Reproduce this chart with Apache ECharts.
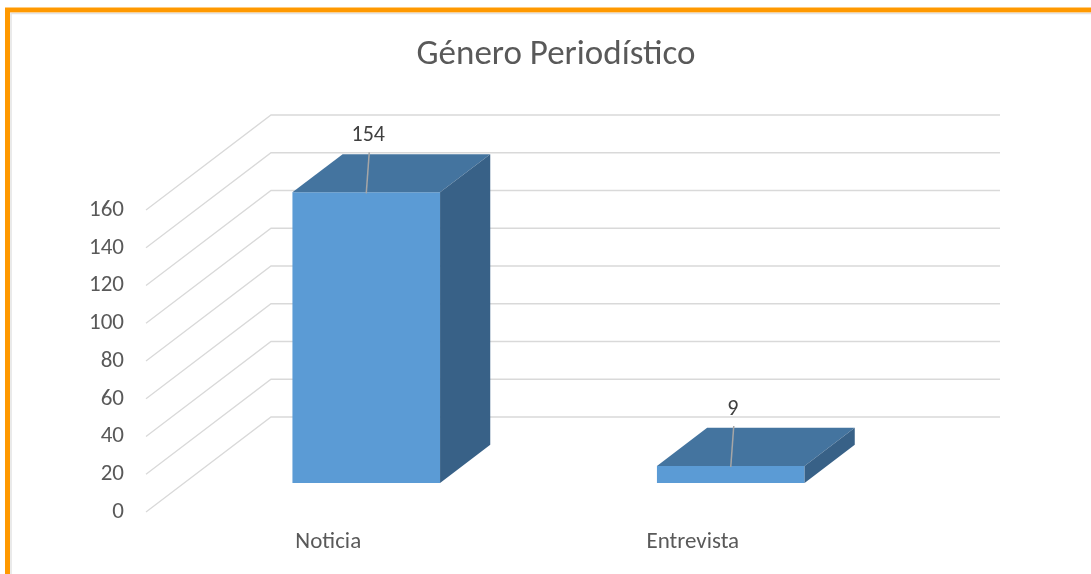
<!DOCTYPE html>
<html>
<head>
<meta charset="utf-8">
<script src="https://cdn.jsdelivr.net/npm/echarts@6/dist/echarts.min.js"></script>
<style>
  html, body { margin: 0; padding: 0; background: #fff; }
  #chart { width: 1091px; height: 574px; }
</style>
</head>
<body>
<div id="chart"></div>
<script>
const categories = ['Noticia', 'Entrevista']
const values = [154, 9]
const yTicks = [0, 20, 40, 60, 80, 100, 120, 140, 160]

const FONT = 'Carlito, Lato, "Open Sans", sans-serif'
// shift from the front edge of the floor to the back wall
const BACK = [125, -95]

const chart = echarts.init(document.getElementById('chart'))

function wallLine(params, api) {
  const cs = params.coordSys
  const y = api.coord([0, api.value(0)])[1]
  const x0 = cs.x
  return {
    type: 'polyline',
    shape: {
      points: [
        [x0, y],
        [x0 + BACK[0], y + BACK[1]],
        [x0 + BACK[0] + cs.width, y + BACK[1]]
      ]
    },
    style: { stroke: '#D9D9D9', lineWidth: 1.3, fill: null }
  }
}

function box(params, api) {
  const idx = api.value(0)
  const val = api.value(1)
  const base = api.coord([idx, 0])
  const top = api.coord([idx, val])
  const cx = base[0]
  const w = api.size([1, 0])[0] * 0.405
  const dx = w * 0.34
  const dy = dx * 0.76
  const l = cx - w / 2
  const r = cx + w / 2
  const y0 = base[1]
  const y1 = top[1]
  return {
    type: 'group',
    children: [
      {
        type: 'rect',
        shape: { x: l, y: y1, width: w, height: y0 - y1 },
        style: { fill: '#5B9BD5' }
      },
      {
        type: 'polygon',
        shape: { points: [[l, y1], [r, y1], [r + dx, y1 - dy], [l + dx, y1 - dy]] },
        style: { fill: '#44749F' }
      },
      {
        type: 'polygon',
        shape: { points: [[r, y1], [r + dx, y1 - dy], [r + dx, y0 - dy], [r, y0]] },
        style: { fill: '#386187' }
      },
      {
        type: 'line',
        shape: { x1: cx + 3, y1: y1 - 40, x2: cx, y2: y1 + 1 },
        style: { stroke: '#A6A6A6', lineWidth: 1.5 }
      },
      {
        type: 'text',
        x: cx + 2,
        y: y1 - 57,
        style: {
          text: String(val),
          fill: '#404040',
          font: '22px ' + FONT,
          align: 'center',
          verticalAlign: 'middle'
        }
      }
    ]
  }
}

const option = {
  animation: false,
  title: {
    text: 'Género Periodístico',
    left: 551,
    textAlign: 'center',
    top: 33,
    textStyle: {
      fontFamily: FONT,
      fontSize: 35,
      fontWeight: 'normal',
      color: '#595959'
    }
  },
  graphic: [
    {
      type: 'rect',
      shape: { x: 7.5, y: 10, width: 1200, height: 800 },
      style: { fill: null, stroke: '#FF9900', lineWidth: 5 }
    },
    {
      type: 'rect',
      shape: { x: 11, y: 13.5, width: 1200, height: 800 },
      style: { fill: null, stroke: '#E3E3E3', lineWidth: 1.5 }
    }
  ],
  grid: [
    // plane of the bar fronts
    { left: 184, right: 178, top: 181, bottom: 91 },
    // front edge of the floor, carries the axis labels
    { left: 146, right: 216, top: 210, bottom: 62 }
  ],
  xAxis: [
    { gridIndex: 0, type: 'category', data: categories, show: false },
    {
      gridIndex: 1,
      type: 'category',
      data: categories,
      axisLine: { show: false },
      axisTick: { show: false },
      axisLabel: {
        margin: 19,
        fontFamily: FONT,
        fontSize: 23,
        color: '#595959'
      }
    }
  ],
  yAxis: [
    { gridIndex: 0, type: 'value', min: 0, max: 160, interval: 20, show: false },
    {
      gridIndex: 1,
      type: 'value',
      min: 0,
      max: 160,
      interval: 20,
      axisLine: { show: false },
      axisTick: { show: false },
      splitLine: { show: false },
      axisLabel: {
        margin: 22,
        fontFamily: FONT,
        fontSize: 23,
        color: '#595959'
      }
    }
  ],
  series: [
    {
      type: 'custom',
      xAxisIndex: 1,
      yAxisIndex: 1,
      z: 1,
      renderItem: wallLine,
      data: yTicks.map(v => [v]),
      encode: { y: 0 },
      silent: true
    },
    {
      type: 'custom',
      xAxisIndex: 0,
      yAxisIndex: 0,
      z: 2,
      renderItem: box,
      data: values.map((v, i) => [i, v]),
      encode: { x: 0, y: 1 }
    }
  ]
}

chart.setOption(option)
</script>
</body>
</html>
